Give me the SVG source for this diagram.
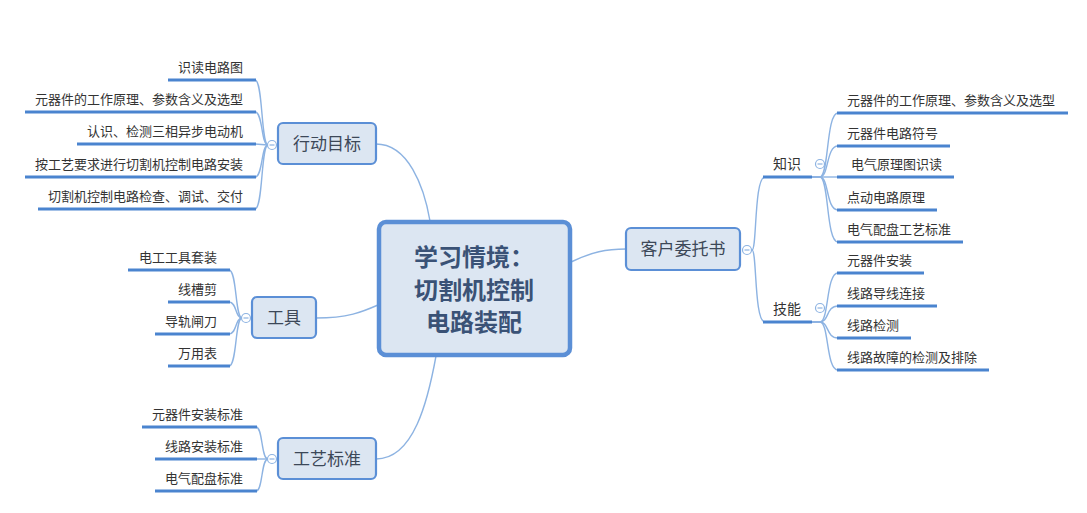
<svg xmlns="http://www.w3.org/2000/svg" width="1087" height="513" viewBox="0 0 1087 513">
<style>
.bg{fill:#ffffff}
.box{fill:#dce6f2;stroke:#5b8fd6;stroke-width:2.2}
.center{fill:#dce6f2;stroke:#5b8fd6;stroke-width:4.5}
.btxt{font-family:"Noto Sans CJK SC","Noto Sans",sans-serif;font-size:17px;fill:#3c4858;text-anchor:middle}
.ctxt{font-family:"Noto Sans CJK SC","Noto Sans",sans-serif;font-size:24px;font-weight:bold;fill:#3a5276;text-anchor:middle}
.t{font-family:"Noto Sans CJK SC","Noto Sans",sans-serif;font-size:13px;fill:#333333}
.tl{text-anchor:end}
.ul{stroke:#4a84cf;stroke-width:3;fill:none}
.cn{stroke:#8db3e2;stroke-width:1.4;fill:none}
.cc{fill:#ffffff;stroke:#8db3e2;stroke-width:1.2}
.cm{stroke:#8db3e2;stroke-width:1.2}
</style>
<rect class="bg" x="0" y="0" width="1087" height="513"/>

<g id="connectors">
<!-- main -->
<path class="cn" d="M376,144 C408,144 424,186 430,221"/>
<path class="cn" d="M316,318 C348,318 362,312 378,305"/>
<path class="cn" d="M376,459 C414,459 428,400 436,356"/>
<path class="cn" d="M571,262 C592,252 606,249 626,249"/>
<!-- 行动目标 children -->
<path class="cn" d="M268,145 C261,145 263,80 255,80"/>
<path class="cn" d="M268,145 C261,145 263,112 255,112"/>
<path class="cn" d="M268,145 L255,144"/>
<path class="cn" d="M268,145 C261,145 263,177 255,177"/>
<path class="cn" d="M268,145 C261,145 263,209 255,209"/>
<!-- 工具 children -->
<path class="cn" d="M242,318 C235,318 237,270 229,270"/>
<path class="cn" d="M242,318 C235,318 237,302 229,302"/>
<path class="cn" d="M242,318 C235,318 237,334 229,334"/>
<path class="cn" d="M242,318 C235,318 237,366 229,366"/>
<!-- 工艺标准 children -->
<path class="cn" d="M268,459 C261,459 263,427 256,427"/>
<path class="cn" d="M268,459 L256,459"/>
<path class="cn" d="M268,459 C261,459 263,491 256,491"/>
<!-- 客户委托书 children -->
<path class="cn" d="M752,250 C757,250 754,177 765,177"/>
<path class="cn" d="M752,250 C757,250 754,322 765,322"/>
<!-- 知识 children -->
<path class="cn" d="M812,177 L820,177 C829,177 826,113 838,113"/>
<path class="cn" d="M812,177 L820,177 C829,177 826,146 838,146"/>
<path class="cn" d="M812,177 L838,177"/>
<path class="cn" d="M812,177 L820,177 C829,177 826,210 838,210"/>
<path class="cn" d="M812,177 L820,177 C829,177 826,242 838,242"/>
<!-- 技能 children -->
<path class="cn" d="M812,322 L820,322 C829,322 826,273 838,273"/>
<path class="cn" d="M812,322 L820,322 C829,322 826,306 838,306"/>
<path class="cn" d="M812,322 L820,322 C829,322 826,338 838,338"/>
<path class="cn" d="M812,322 L820,322 C829,322 826,370 838,370"/>
</g>

<g id="center">
<rect class="center" x="379" y="222" width="191" height="133" rx="7"/>
<text class="ctxt" x="474" y="266">学习情境：</text>
<text class="ctxt" x="474" y="299">切割机控制</text>
<text class="ctxt" x="474" y="331">电路装配</text>
</g>

<g id="xingdongmubiao">
<rect class="box" x="278" y="123" width="98" height="41" rx="5"/>
<text class="btxt" x="327" y="150">行动目标</text>
<circle class="cc" cx="272" cy="145" r="4.5"/>
<line class="cm" x1="269.5" y1="145" x2="274.5" y2="145"/>
</g>
<g id="n-shidu">
<line class="ul" x1="168" y1="80" x2="256" y2="80"/>
<text class="t tl" x="243" y="72">识读电路图</text>
</g>
<g id="n-yuanqijian1">
<line class="ul" x1="25" y1="112" x2="256" y2="112"/>
<text class="t tl" x="243" y="104">元器件的工作原理、参数含义及选型</text>
</g>
<g id="n-renshi">
<line class="ul" x1="77" y1="144" x2="256" y2="144"/>
<text class="t tl" x="243" y="136">认识、检测三相异步电动机</text>
</g>
<g id="n-angongyi">
<line class="ul" x1="25" y1="177" x2="256" y2="177"/>
<text class="t tl" x="243" y="169">按工艺要求进行切割机控制电路安装</text>
</g>
<g id="n-jiancha">
<line class="ul" x1="38" y1="209" x2="256" y2="209"/>
<text class="t tl" x="243" y="201">切割机控制电路检查、调试、交付</text>
</g>

<g id="gongju">
<rect class="box" x="252" y="297" width="64" height="41" rx="5"/>
<text class="btxt" x="284" y="324">工具</text>
<circle class="cc" cx="246" cy="318" r="4.5"/>
<line class="cm" x1="243.5" y1="318" x2="248.5" y2="318"/>
</g>
<g id="n-diangong">
<line class="ul" x1="128" y1="270" x2="230" y2="270"/>
<text class="t tl" x="217" y="262">电工工具套装</text>
</g>
<g id="n-xiancaojian">
<line class="ul" x1="168" y1="302" x2="230" y2="302"/>
<text class="t tl" x="217" y="294">线槽剪</text>
</g>
<g id="n-daogui">
<line class="ul" x1="155" y1="334" x2="230" y2="334"/>
<text class="t tl" x="217" y="326">导轨闸刀</text>
</g>
<g id="n-wanyongbiao">
<line class="ul" x1="168" y1="366" x2="230" y2="366"/>
<text class="t tl" x="217" y="358">万用表</text>
</g>

<g id="gongyibiaozhun">
<rect class="box" x="278" y="438" width="98" height="41" rx="5"/>
<text class="btxt" x="327" y="465">工艺标准</text>
<circle class="cc" cx="272" cy="459" r="4.5"/>
<line class="cm" x1="269.5" y1="459" x2="274.5" y2="459"/>
</g>
<g id="n-yqjaz">
<line class="ul" x1="142" y1="427" x2="257" y2="427"/>
<text class="t tl" x="243" y="419">元器件安装标准</text>
</g>
<g id="n-xlaz">
<line class="ul" x1="155" y1="459" x2="257" y2="459"/>
<text class="t tl" x="243" y="451">线路安装标准</text>
</g>
<g id="n-dqpp">
<line class="ul" x1="155" y1="491" x2="257" y2="491"/>
<text class="t tl" x="243" y="483">电气配盘标准</text>
</g>

<g id="kehuweituoshu">
<rect class="box" x="626" y="228" width="114" height="42" rx="5"/>
<text class="btxt" x="683" y="255">客户委托书</text>
<circle class="cc" cx="747" cy="250" r="4.5"/>
<line class="cm" x1="744.5" y1="250" x2="749.5" y2="250"/>
</g>

<g id="zhishi">
<line class="ul" x1="763" y1="177" x2="812" y2="177"/>
<text class="t" x="773" y="169" style="font-size:14px">知识</text>
<circle class="cc" cx="820" cy="164" r="4.5"/>
<line class="cm" x1="817.5" y1="164" x2="822.5" y2="164"/>
</g>
<g id="r-yuanqijian">
<line class="ul" x1="837" y1="113" x2="1068" y2="113"/>
<text class="t" x="847" y="105">元器件的工作原理、参数含义及选型</text>
</g>
<g id="r-fuhao">
<line class="ul" x1="837" y1="146" x2="950" y2="146"/>
<text class="t" x="847" y="138">元器件电路符号</text>
</g>
<g id="r-yuanlitu">
<line class="ul" x1="837" y1="177" x2="954" y2="177"/>
<text class="t" x="851" y="169">电气原理图识读</text>
</g>
<g id="r-diandong">
<line class="ul" x1="837" y1="210" x2="937" y2="210"/>
<text class="t" x="847" y="202">点动电路原理</text>
</g>
<g id="r-peipan">
<line class="ul" x1="837" y1="242" x2="963" y2="242"/>
<text class="t" x="847" y="234">电气配盘工艺标准</text>
</g>

<g id="jineng">
<line class="ul" x1="763" y1="322" x2="812" y2="322"/>
<text class="t" x="773" y="314" style="font-size:14px">技能</text>
<circle class="cc" cx="820" cy="308" r="4.5"/>
<line class="cm" x1="817.5" y1="308" x2="822.5" y2="308"/>
</g>
<g id="r-anzhuang">
<line class="ul" x1="837" y1="273" x2="924" y2="273"/>
<text class="t" x="847" y="265">元器件安装</text>
</g>
<g id="r-lianjie">
<line class="ul" x1="837" y1="306" x2="937" y2="306"/>
<text class="t" x="847" y="298">线路导线连接</text>
</g>
<g id="r-jiance">
<line class="ul" x1="837" y1="338" x2="911" y2="338"/>
<text class="t" x="847" y="330">线路检测</text>
</g>
<g id="r-guzhang">
<line class="ul" x1="837" y1="370" x2="989" y2="370"/>
<text class="t" x="847" y="362">线路故障的检测及排除</text>
</g>
</svg>
